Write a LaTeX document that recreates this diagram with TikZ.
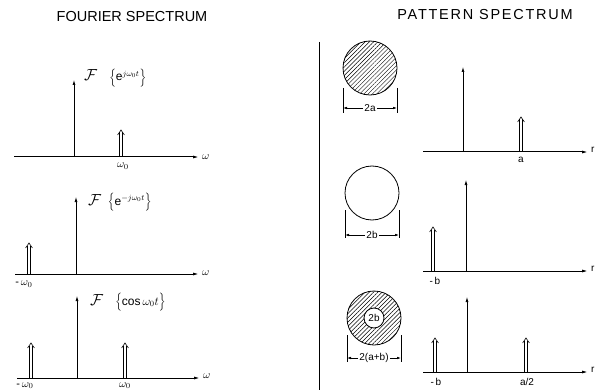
\RequirePackage{fix-cm}
\documentclass[tikz,border=0pt]{standalone}
\usepackage{fontspec}
\setmainfont{Liberation Sans}
\usetikzlibrary{arrows.meta,patterns.meta}
\newcommand\dimpulse[2]{%
  \draw[dshaft] ([xshift=-1.3pt]#1) -- ([xshift=-1.3pt,yshift=-2.5pt]#2);
  \draw[dshaft] ([xshift=1.3pt]#1) -- ([xshift=1.3pt,yshift=-2.5pt]#2);
  \draw[dshaft,line join=miter] ([xshift=-3.4pt,yshift=-5pt]#2) -- (#2) -- ([xshift=3.4pt,yshift=-5pt]#2);
}
\newcommand\bigF{{\fontsize{16}{16}\selectfont$\mathcal{F}$}}
\begin{document}
\begin{tikzpicture}[x=1pt,y=-1pt,
  axis/.style={line width=1pt,-{Latex[length=6pt,width=3pt]}},
  imp/.style={line width=0.7pt,-{Latex[length=5pt,width=3pt]}},
  dshaft/.style={line width=0.6pt},
  title/.style={font=\fontsize{14.5}{16}\selectfont},
  lab/.style={font=\fontsize{10}{11}\selectfont,inner sep=1pt},
  wlab/.style={font=\fontsize{11}{12}\selectfont,inner sep=1pt},
  flab/.style={font=\fontsize{12}{14}\selectfont,anchor=west,inner sep=0pt},
  dimline/.style={line width=0.6pt,-{Latex[length=4pt,width=2.5pt]}},
  tick/.style={line width=0.6pt},
  hatch/.style={pattern={Lines[angle=45,distance=3pt,line width=0.45pt]}},
  ring/.style={line width=0.8pt}]
\useasboundingbox (0,0) rectangle (607,390);

% titles
\node[title] (t1) at (132,17) {FOURIER SPECTRUM};
\node[title] (t2) at (485,15) {\addfontfeatures{LetterSpace=12}PATTERN SPECTRUM};

% ---------- Fourier panel 1 ----------
\coordinate (a1s) at (14,157); \coordinate (a1e) at (199,157);
\draw[axis] (a1s) -- (a1e);
\node[wlab,anchor=west] (w1) at (201,157) {$\omega$};
\coordinate (m1b) at (74,157); \coordinate (m1t) at (74,80);
\draw[imp] (m1b) -- (m1t);
\coordinate (d1b) at (121,157); \coordinate (d1t) at (121,130);
\dimpulse{d1b}{d1t}
\node[wlab] (l1) at (123,166) {$\omega_0$};
\node[flab] (f1) at (84,78) {\bigF\quad$\Bigl\{\mathrm{e}^{j\omega_0 t}\Bigr\}$};

% ---------- Fourier panel 2 ----------
\coordinate (a2s) at (15,274); \coordinate (a2e) at (199,274);
\draw[axis] (a2s) -- (a2e);
\node[wlab,anchor=west] (w2) at (201,273) {$\omega$};
\coordinate (m2b) at (76,274); \coordinate (m2t) at (76,197);
\draw[imp] (m2b) -- (m2t);
\coordinate (d2b) at (29,274); \coordinate (d2t) at (29,243);
\dimpulse{d2b}{d2t}
\node[wlab] (l2) at (24,284) {-\,$\omega_0$};
\node[flab] (f2) at (88,202) {\bigF\;\;$\Bigl\{\mathrm{e}^{-j\omega_0 t}\Bigr\}$};

% ---------- Fourier panel 3 ----------
\coordinate (a3s) at (17,378); \coordinate (a3e) at (200,378);
\draw[axis] (a3s) -- (a3e);
\node[wlab,anchor=west] (w3) at (202,376) {$\omega$};
\coordinate (m3b) at (77,378); \coordinate (m3t) at (77,296);
\draw[imp] (m3b) -- (m3t);
\coordinate (d3b) at (31,378); \coordinate (d3t) at (31,343);
\dimpulse{d3b}{d3t}
\coordinate (d4b) at (125,378); \coordinate (d4t) at (125,343);
\dimpulse{d4b}{d4t}
\node[wlab] (l3) at (25,385.5) {-\,$\omega_0$};
\node[wlab] (l4) at (125,385.5) {$\omega_0$};
\node[flab] (f3) at (90,302) {\bigF\quad$\Bigl\{\mathrm{cos}\,\omega_0 t\Bigr\}$};

% divider
\coordinate (dv1) at (319,42); \coordinate (dv2) at (319,390);
\draw[line width=0.7pt] (dv1) -- (dv2);

% ---------- Pattern 1: disk 2a ----------
\coordinate (c1) at (370,68);
\draw[ring,hatch] (c1) circle (27);
\coordinate (k1a) at (343,88); \coordinate (k1b) at (343,113);
\coordinate (k1c) at (397,88); \coordinate (k1d) at (397,113);
\draw[tick] (k1a) -- (k1b); \draw[tick] (k1c) -- (k1d);
\node[lab,fill=white] (n1) at (370,108) {2a};
\draw[dimline] (n1.west) -- (343,108);
\draw[dimline] (n1.east) -- (397,108);

\coordinate (r1s) at (423,152); \coordinate (r1e) at (588,152);
\draw[axis] (r1s) -- (r1e);
\node[lab,anchor=west] (rr1) at (590,150) {r};
\coordinate (p1b) at (463,152); \coordinate (p1t) at (463,67);
\draw[imp] (p1b) -- (p1t);
\coordinate (q1b) at (521,152); \coordinate (q1t) at (521,117);
\dimpulse{q1b}{q1t}
\node[lab] (la1) at (521,160) {a};

% ---------- Pattern 2: circle 2b ----------
\coordinate (c2) at (372,193);
\draw[ring] (c2) circle (27);
\coordinate (k2a) at (345,210); \coordinate (k2b) at (345,238);
\coordinate (k2c) at (399,210); \coordinate (k2d) at (399,238);
\draw[tick] (k2a) -- (k2b); \draw[tick] (k2c) -- (k2d);
\node[lab,fill=white] (n2) at (372,235) {2b};
\draw[dimline] (n2.west) -- (345,235);
\draw[dimline] (n2.east) -- (399,235);

\coordinate (r2s) at (423,271); \coordinate (r2e) at (588,271);
\draw[axis] (r2s) -- (r2e);
\node[lab,anchor=west] (rr2) at (590,269) {r};
\coordinate (p2b) at (466,271); \coordinate (p2t) at (466,180);
\draw[imp] (p2b) -- (p2t);
\coordinate (q2b) at (433,271); \coordinate (q2t) at (433,227);
\dimpulse{q2b}{q2t}
\node[lab] (lb2) at (435,281) {-\,b};

% ---------- Pattern 3: annulus ----------
\coordinate (c3) at (374,318);
\path[hatch,even odd rule] (c3) circle (27) (c3) circle (10);
\draw[ring] (c3) circle (27);
\draw[ring] (c3) circle (10);
\node[lab] (in3) at (c3) {2b};
\coordinate (k3a) at (347,335); \coordinate (k3b) at (347,362);
\coordinate (k3c) at (401,335); \coordinate (k3d) at (401,362);
\draw[tick] (k3a) -- (k3b); \draw[tick] (k3c) -- (k3d);
\node[lab,fill=white] (n3) at (374,358) {2(a+b)};
\draw[dimline] (n3.west) -- (347,358);
\draw[dimline] (n3.east) -- (401,358);

\coordinate (r3s) at (423,372); \coordinate (r3e) at (588,372);
\draw[axis] (r3s) -- (r3e);
\node[lab,anchor=west] (rr3) at (590,370) {r};
\coordinate (p3b) at (467,372); \coordinate (p3t) at (467,297);
\draw[imp] (p3b) -- (p3t);
\coordinate (q3b) at (435,372); \coordinate (q3t) at (435,338);
\dimpulse{q3b}{q3t}
\coordinate (q4b) at (526,372); \coordinate (q4t) at (526,338);
\dimpulse{q4b}{q4t}
\node[lab] (lb3) at (436,382) {-\,b};
\node[lab] (la3) at (527,382) {a/2};
\end{tikzpicture}
\end{document}
